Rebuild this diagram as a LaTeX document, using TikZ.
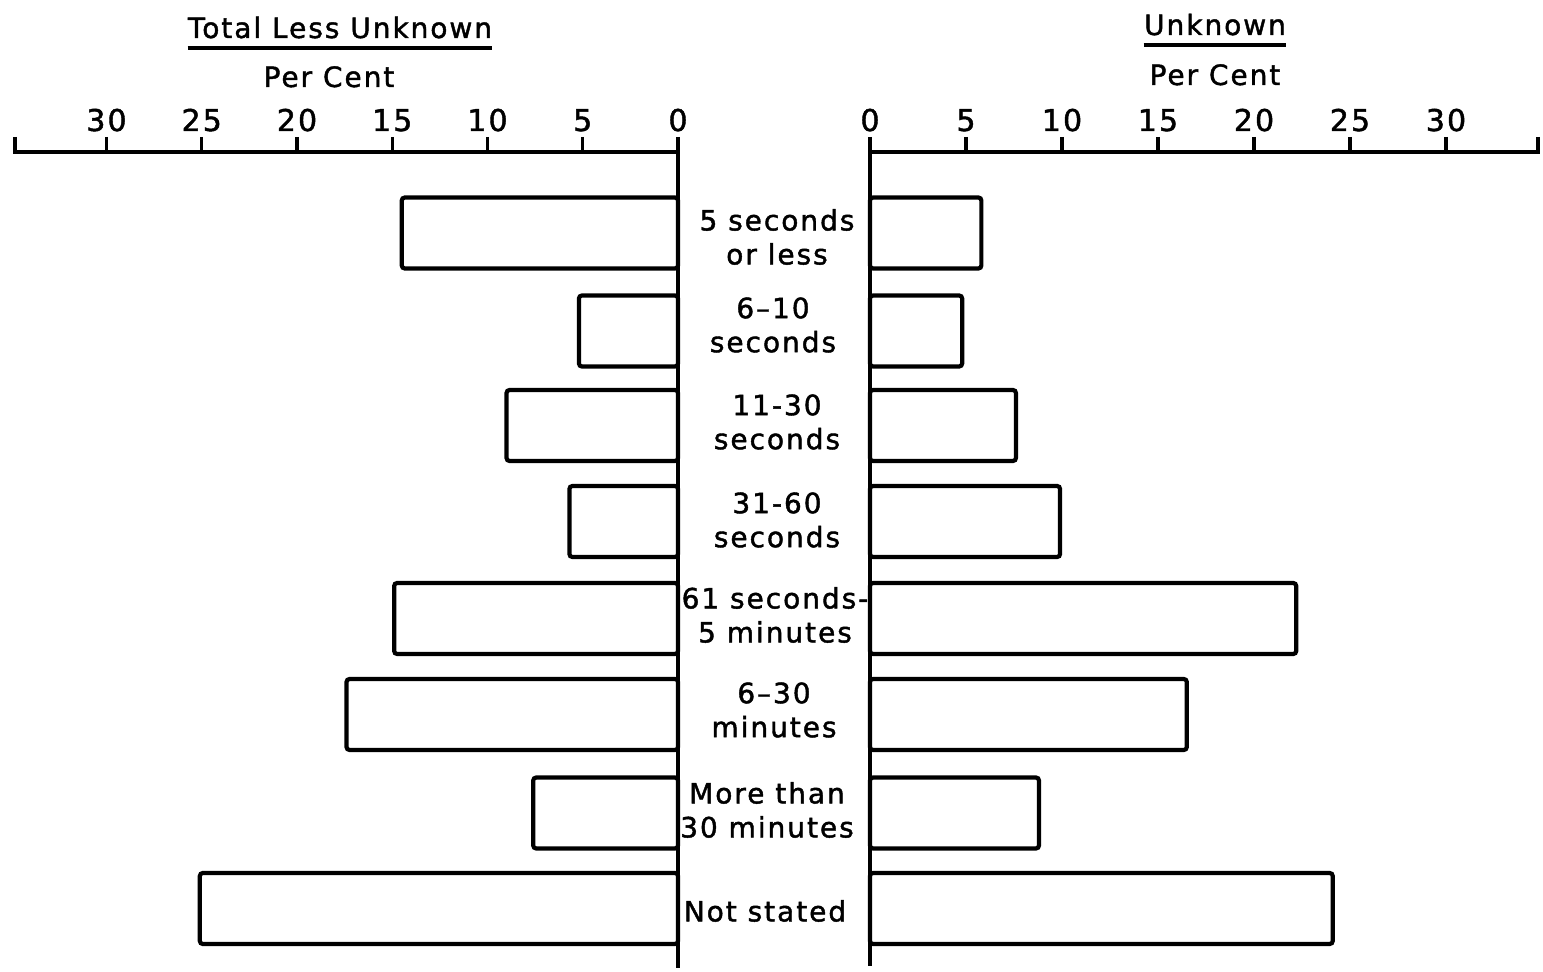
\documentclass[tikz,border=0pt]{standalone}
\usepackage{fontspec}
\setmainfont{DejaVu Sans}[LetterSpace=7,FakeBold=1.5]

\begin{document}
\begin{tikzpicture}[x=0.5pt,y=-0.5pt,
			axis/.style={line width=1.7pt},
			bar/.style={draw,line width=2.1pt,rounded corners=1.5pt},
			lab/.style={font=\fontsize{14}{17}\selectfont,align=center,inner sep=0pt},
			num/.style={font=\fontsize{15}{18}\selectfont,inner sep=0pt,anchor=base}]
			\useasboundingbox (0,0) rectangle (1543,972);
			% headings
			\node[lab,anchor=base] (ttl) at (340,38) {Total Less Unknown};
			\draw[axis] ([yshift=-5pt]ttl.base west) -- ([yshift=-5pt]ttl.base east);
			\node[lab,anchor=base] (pcl) at (329,87) {Per Cent};
			\node[lab,anchor=base] (ttr) at (1215,35) {Unknown};
			\draw[axis] ([yshift=-5pt]ttr.base west) -- ([yshift=-5pt]ttr.base east);
			\node[lab,anchor=base] (pcr) at (1215,85) {Per Cent};
			% scales
			\coordinate (lend) at (15,152);
			\coordinate (l0) at (678,152);
			\coordinate (r0) at (870,152);
			\coordinate (rend) at (1538,152);
			\draw[axis] (15,137) -- (lend) -- (l0) -- (678,968);
			\draw[axis] (1538,137) -- (rend) -- (r0) -- (870,966);
			\foreach \v in {0,5,...,30} {
				\node[num] (nl\v) at ({678-19.05*\v},131) {\v};
				\draw[axis] ({678-19.05*\v},137) -- ({678-19.05*\v},152);
				\node[num] (nr\v) at ({870+19.2*\v},131) {\v};
				\draw[axis] ({870+19.2*\v},137) -- ({870+19.2*\v},152);
			}
			% bars
			\foreach \y/\l/\r in {233/14.5/5.8, 331/5.2/4.8, 425.5/9.0/7.6, 521.5/5.7/9.9,
				618.5/14.9/22.2, 714.5/17.4/16.5, 813/7.6/8.8, 908.5/25.1/24.1} {
				\draw[bar] (678,{\y-35.5}) rectangle ({678-19.05*\l},{\y+35.5});
				\draw[bar] (870,{\y-35.5}) rectangle ({870+19.2*\r},{\y+35.5});
			}
			% classes
			\foreach \x/\y/\t [count=\i] in {777/237/{5 seconds\\or less}, 773/325/{6–10\\seconds},
				777/422/{11-30\\seconds}, 777/520/{31-60\\seconds}, 775/615/{61 seconds-\\5 minutes},
				774/710/{6–30\\minutes}, 767/810/{More than\\30 minutes}, 765/911/{Not stated}} {
				\node[lab] (c\i) at (\x,\y) {\t};
			}
\end{tikzpicture}
\end{document}
